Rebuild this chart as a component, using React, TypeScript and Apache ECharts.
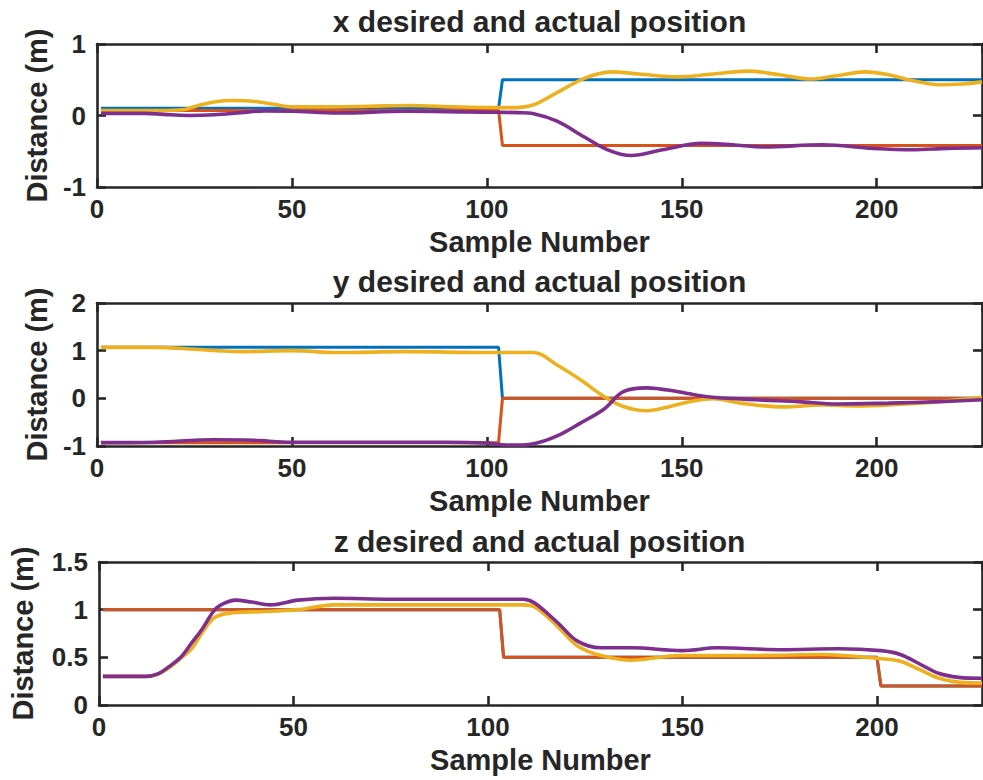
import React, { useEffect, useRef } from "react";
import * as echarts from "echarts";

// ---- Data (sample number, metres) ----
const titles = ["x desired and actual position", "y desired and actual position", "z desired and actual position"];
const xAxisName = "Sample Number";
const yAxisName = "Distance (m)";
const seriesColors = ["#0072BD", "#D95319", "#EDB120", "#7E2F8E"];

// x subplot
const xDesiredA: number[][] = [[1, 0.1], [103, 0.1], [104, 0.5], [227, 0.5]];
const xDesiredB: number[][] = [[1, 0.07], [103, 0.07], [104, -0.42], [227, -0.42]];
const xActualA: number[][] = [
  [1, 0.07], [10, 0.07], [16, 0.07], [22, 0.08], [26, 0.14], [30, 0.19], [35, 0.21], [40, 0.2],
  [45, 0.16], [50, 0.12], [58, 0.12], [70, 0.13], [80, 0.14], [92, 0.12], [103, 0.11], [107, 0.11], [112, 0.15],
  [118, 0.32], [125, 0.52], [132, 0.61], [139, 0.58], [149, 0.54], [158, 0.58], [167, 0.62], [175, 0.57],
  [183, 0.51], [190, 0.56], [197, 0.61], [203, 0.57], [209, 0.49], [216, 0.43], [222, 0.44], [227, 0.47],
];
const xActualB: number[][] = [
  [1, 0.03], [12, 0.03], [19, 0.01], [24, 0.0], [30, 0.01], [37, 0.04], [43, 0.065], [50, 0.06],
  [62, 0.035], [79, 0.06], [95, 0.05], [103, 0.045], [108, 0.04], [112, 0.025], [118, -0.08],
  [125, -0.3], [131, -0.48], [137, -0.56], [145, -0.48], [155, -0.39], [163, -0.41], [171, -0.44],
  [186, -0.41], [199, -0.46], [209, -0.48], [218, -0.46], [227, -0.45],
];

// y subplot
const yDesiredA: number[][] = [[1, 1.07], [103, 1.07], [104, 0], [227, 0]];
const yDesiredB: number[][] = [[1, -0.93], [103, -0.93], [104, 0], [227, 0]];
const yActualA: number[][] = [
  [1, 1.07], [15, 1.07], [25, 1.03], [31, 1.0], [37, 0.98], [50, 1.0], [62, 0.96], [79, 0.98],
  [101, 0.96], [112, 0.96], [118, 0.7], [124, 0.39], [130, 0.04], [135, -0.17], [141, -0.26],
  [147, -0.17], [152, -0.07], [158, -0.01], [165, -0.1], [176, -0.18], [186, -0.14], [195, -0.16],
  [203, -0.14], [216, -0.07], [227, 0.02],
];
const yActualB: number[][] = [
  [1, -0.93], [15, -0.92], [30, -0.87], [40, -0.88], [50, -0.92], [70, -0.92], [90, -0.92],
  [100, -0.94], [105, -0.98], [109, -0.98], [114, -0.91], [119, -0.75], [124, -0.52], [130, -0.23],
  [135, 0.14], [141, 0.22], [149, 0.14], [156, 0.04], [169, -0.03], [180, -0.07], [190, -0.12],
  [203, -0.1], [216, -0.07], [227, -0.03],
];

// z subplot
const zDesiredA: number[][] = [[1, 1], [103, 1], [104, 0.5], [200, 0.5], [201, 0.2], [227, 0.2]];
const zDesiredB: number[][] = [[1, 1], [103, 1], [104, 0.5], [200, 0.5], [201, 0.2], [227, 0.2]];
const zActualA: number[][] = [
  [1, 0.3], [12, 0.3], [15, 0.32], [18, 0.39], [21, 0.49], [24, 0.6], [26.4, 0.75], [29.8, 0.92],
  [35, 0.97], [42.6, 0.98], [51, 1.0], [60.5, 1.05], [80, 1.05], [100, 1.05], [109, 1.05], [112, 1.03],
  [118, 0.82], [123, 0.62], [129, 0.52], [137, 0.47], [149.5, 0.52], [170, 0.52], [186, 0.53],
  [200, 0.49], [206, 0.46], [211, 0.37], [216, 0.28], [221, 0.24], [227, 0.23],
];
const zActualB: number[][] = [
  [1, 0.3], [12, 0.3], [15.3, 0.33], [17.9, 0.4], [21, 0.5], [23.8, 0.65], [26.4, 0.79], [29.8, 1.0],
  [32.4, 1.07], [35, 1.1], [39.2, 1.08], [44, 1.05], [51.2, 1.1], [60.5, 1.12], [75, 1.11], [100, 1.11],
  [109, 1.11], [112, 1.07], [118, 0.86], [123, 0.67], [129, 0.6], [137, 0.6], [150, 0.57], [159, 0.6],
  [175, 0.58], [190, 0.59], [201, 0.57], [206, 0.53], [211, 0.43], [216, 0.33], [221, 0.29], [227, 0.28],
];

const yRanges = [
  { min: -1, max: 1, interval: 1 },
  { min: -1, max: 2, interval: 1 },
  { min: 0, max: 1.5, interval: 0.5 },
];
const xRange = { min: 0, max: 227, interval: 50 };

const subplotData = [
  [xDesiredA, xDesiredB, xActualA, xActualB],
  [yDesiredA, yDesiredB, yActualA, yActualB],
  [zDesiredA, zDesiredB, zActualA, zActualB],
];

// ---- Layout ----
const FONT = "Liberation Sans";
const INK = "#262626";
const gridTops = [44, 303, 562];
const gridH = 143;
const gridLeft = 97;
const gridW = 885;
const titleYs = [21, 281, 541];
const yNameGaps = [46, 46, 62];
const lineWidths = [3, 3, 3.6, 3.6];

export default function App() {
  const ref = useRef<HTMLDivElement>(null);
  useEffect(() => {
    if (!ref.current) return;
    const chart = echarts.init(ref.current, null, { renderer: "svg" });

    const axisLine = { show: true, onZero: false, lineStyle: { color: INK, width: 2.6 } };
    const axisTick = { show: true, inside: true, length: 9, lineStyle: { color: INK, width: 2.6 } };
    const labelStyle = { color: INK, fontSize: 26, fontWeight: "bold" as const, fontFamily: FONT };
    const nameStyle = { color: INK, fontSize: 29, fontWeight: "bold" as const, fontFamily: FONT };

    const grid: any[] = [];
    const xAxis: any[] = [];
    const yAxis: any[] = [];
    const series: any[] = [];
    const graphic: any[] = [];

    for (let i = 0; i < 3; i++) {
      grid.push({ left: gridLeft, top: gridTops[i], width: gridW, height: gridH, show: false });
      xAxis.push({
        type: "value", gridIndex: i, position: "bottom", ...xRange,
        axisLine, axisTick, splitLine: { show: false },
        axisLabel: { ...labelStyle, margin: 9, showMaxLabel: false },
        name: xAxisName, nameLocation: "middle", nameGap: 40, nameTextStyle: nameStyle,
      });
      xAxis.push({
        type: "value", gridIndex: i, position: "top", ...xRange,
        axisLine, axisTick, splitLine: { show: false }, axisLabel: { show: false },
      });
      yAxis.push({
        type: "value", gridIndex: i, position: "left", ...yRanges[i],
        axisLine, axisTick, splitLine: { show: false },
        axisLabel: { ...labelStyle, margin: 11 },
        name: yAxisName, nameLocation: "middle", nameGap: yNameGaps[i], nameTextStyle: nameStyle,
      });
      yAxis.push({
        type: "value", gridIndex: i, position: "right", ...yRanges[i],
        axisLine, axisTick, splitLine: { show: false }, axisLabel: { show: false },
      });
      subplotData[i].forEach((d, k) => {
        series.push({
          type: "line",
          xAxisIndex: i * 2,
          yAxisIndex: i * 2,
          data: d,
          showSymbol: false,
          symbol: "none",
          smooth: k >= 2 ? 0.35 : false,
          lineStyle: { color: seriesColors[k], width: lineWidths[k] },
          itemStyle: { color: seriesColors[k] },
          z: 2 + k,
        });
      });
      graphic.push({
        type: "text",
        x: gridLeft + gridW / 2,
        y: titleYs[i],
        style: {
          text: titles[i],
          font: `bold 30px "${FONT}"`,
          fill: INK,
          textAlign: "center",
          textVerticalAlign: "middle",
          align: "center",
          verticalAlign: "middle",
        },
      });
    }

    chart.setOption({
      animation: false,
      backgroundColor: "#ffffff",
      grid,
      xAxis,
      yAxis,
      series,
      graphic,
    });
    return () => chart.dispose();
  }, []);

  return (
    <div
      ref={ref}
      style={{ position: "absolute", left: 0, top: 0, width: 983, height: 780, background: "#fff" }}
    />
  );
}
